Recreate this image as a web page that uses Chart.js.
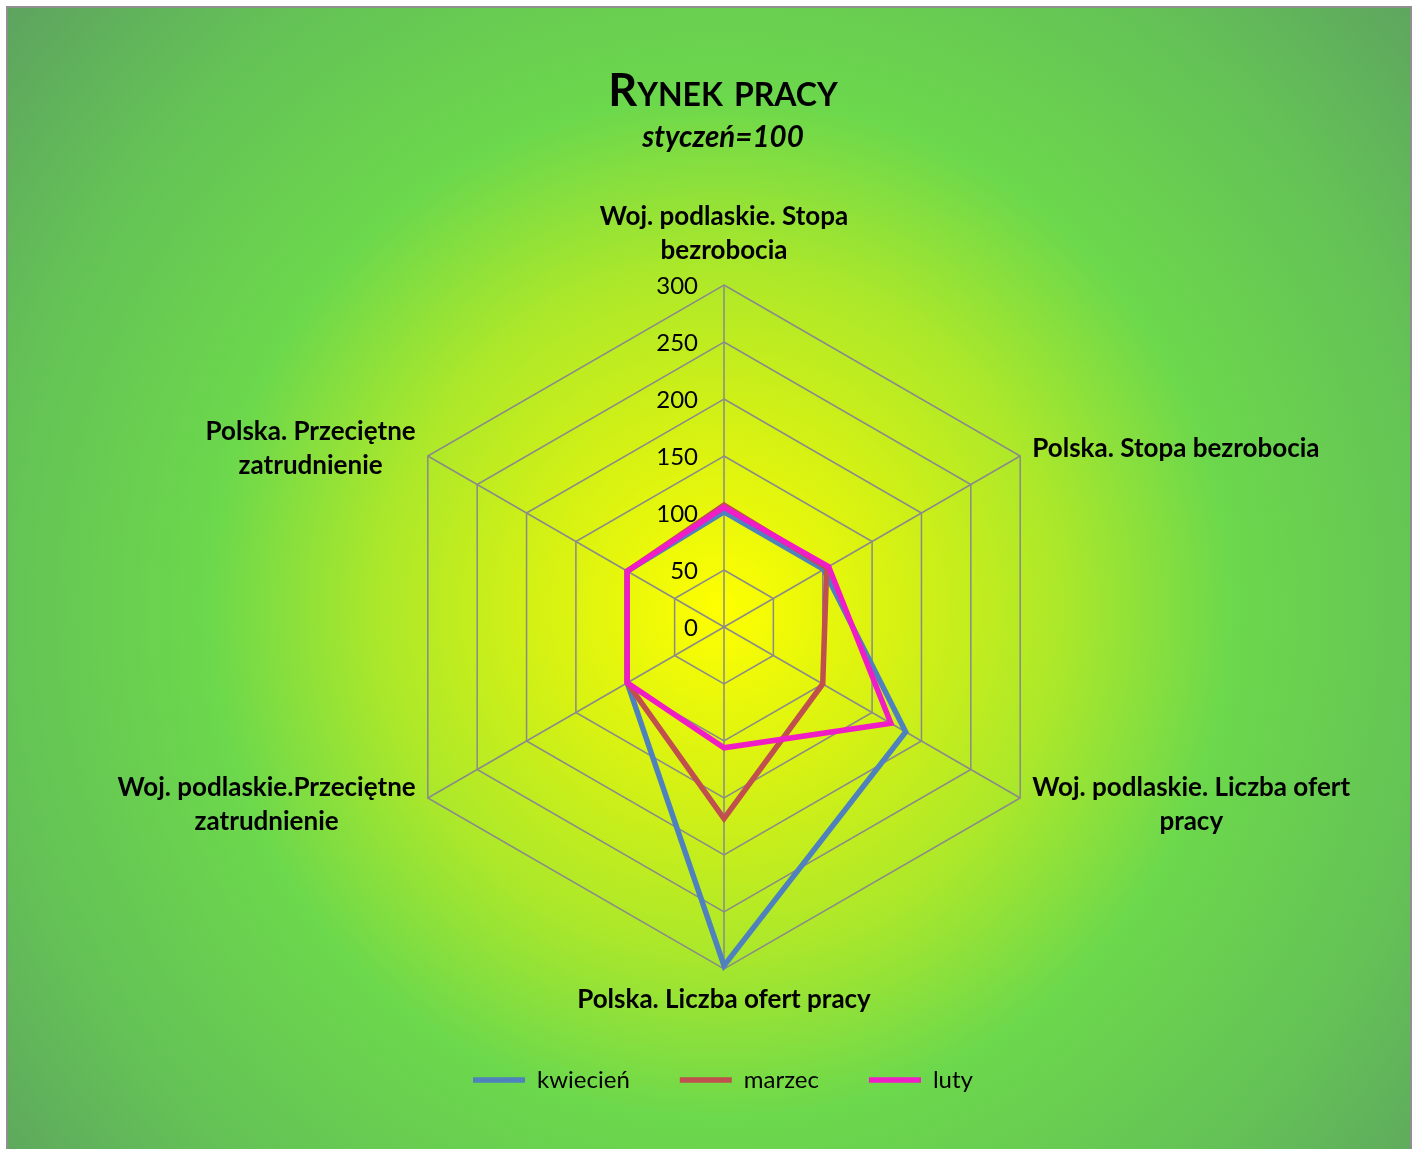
<!DOCTYPE html>
<html lang="pl">
<head>
<meta charset="utf-8">
<title>Rynek pracy</title>
<script src="https://cdn.jsdelivr.net/npm/chart.js@4"></script>
<style>
	html, body { margin: 0; padding: 0; overflow: hidden; }
	body { width: 1420px; height: 1149px; position: relative; background: #fff; }
	#tlo {
		position: absolute; left: 6px; top: 6px; width: 1406px; height: 1160px;
		box-sizing: border-box; border: 2px solid #8f8f8f;
		background: radial-gradient(circle at 712px 600px, #ffff00 0px, #d8f212 170px, #ace82a 340px, #6cd84c 510px, #64c256 730px, #5c9c62 980px);
	}
	#wykres-box { position: absolute; left: 0; top: 0; width: 1420px; height: 1149px; }
</style>
</head>
<body>
<div id="tlo"></div>
<div id="wykres-box"><canvas id="wykres"></canvas></div>
<script>
const FONT = 'Lato, "Open Sans", sans-serif';

// kategorie (osie)
const kategorie = [
	['Woj. podlaskie. Stopa', 'bezrobocia'],
	['Polska. Stopa bezrobocia'],
	['Woj. podlaskie. Liczba ofert', 'pracy'],
	['Polska. Liczba ofert pracy'],
	['Woj. podlaskie.Przeciętne', 'zatrudnienie'],
	['Polska. Przeciętne', 'zatrudnienie']
];

// wartości, styczeń = 100
const kwiecien = [101, 101, 184, 297, 98, 98];
const marzec = [107, 104, 100, 168, 98, 98];
const luty = [105, 106, 169, 106, 98, 98];

// skala
const skalaMin = 0;
const skalaMax = 300;
const skalaKrok = 50;

// Etykiety osi rysowane poza wielokątem, linie wyśrodkowane jak w Excelu
const etykietyOsi = {
	id: 'etykietyOsi',
	afterDraw(chart) {
		let scale = chart.scales.r;
		let ctx = chart.ctx;
		let lh = 34;
		ctx.save();
		ctx.font = 'bold 26px ' + FONT;
		ctx.fillStyle = '#000';
		ctx.textBaseline = 'middle';
		ctx.textAlign = 'center';
		chart.data.labels.forEach((linie, i) => {
			let kat = scale.getIndexAngle(i);
			let p = scale.getPointPosition(i, scale.drawingArea + 14);
			let sin = Math.sin(kat), cos = Math.cos(kat);
			let szer = Math.max(...linie.map(l => ctx.measureText(l).width));
			let cx = p.x;
			if (sin > 0.1) cx = p.x + szer / 2;
			else if (sin < -0.1) cx = p.x - szer / 2;
			let y0;
			if (Math.abs(sin) <= 0.1) {
				y0 = cos > 0 ? p.y - 20 - (linie.length - 1) * lh : p.y + 17;
			} else {
				y0 = p.y - (linie.length - 1) * lh / 2;
			}
			linie.forEach((l, k) => ctx.fillText(l, cx, y0 + k * lh));
		});
		ctx.restore();
	}
};

// Wartości skali po lewej stronie osi pionowej (łącznie z 0)
const etykietySkali = {
	id: 'etykietySkali',
	afterDatasetsDraw(chart) {
		let scale = chart.scales.r;
		let ctx = chart.ctx;
		ctx.save();
		ctx.font = '24px ' + FONT;
		ctx.fillStyle = '#000';
		ctx.textAlign = 'right';
		ctx.textBaseline = 'middle';
		scale.ticks.forEach(t => {
			let y = scale.yCenter - scale.getDistanceFromCenterForValue(t.value);
			ctx.fillText(t.label, scale.xCenter - 26, y + 1);
		});
		ctx.restore();
	}
};

function seria(label, data, kolor, order) {
	return {
		label: label,
		data: data,
		borderColor: kolor,
		backgroundColor: kolor,
		borderWidth: 5.5,
		borderCapStyle: 'round',
		borderJoinStyle: 'miter',
		fill: false,
		pointRadius: 0,
		pointHoverRadius: 0,
		pointStyle: 'line',
		clip: false,
		order: order
	};
}

new Chart(document.getElementById('wykres'), {
	type: 'radar',
	data: {
		labels: kategorie,
		datasets: [
			seria('kwiecień', kwiecien, '#4f81bd', 2),
			seria('marzec', marzec, '#c0504d', 1),
			seria('luty', luty, '#f01cc6', 0)
		]
	},
	options: {
		responsive: true,
		maintainAspectRatio: false,
		animation: false,
		events: [],
		layout: { padding: { top: 0, left: 26, right: 0, bottom: 47 } },
		plugins: {
			title: {
				display: true,
				text: 'Rynek pracy',
				color: '#000',
				font: { family: FONT, size: 45, weight: 'small-caps bold' },
				padding: { top: 64, bottom: 0 }
			},
			subtitle: {
				display: true,
				text: 'styczeń=100',
				color: '#000',
				font: { family: FONT, size: 29.5, style: 'italic', weight: 'bold' },
				padding: { top: 2, bottom: 0 }
			},
			legend: {
				position: 'bottom',
				labels: {
					usePointStyle: true,
					pointStyleWidth: 52,
					color: '#000',
					font: { family: FONT, size: 24 },
					padding: 50,
					sort: (a, b) => a.datasetIndex - b.datasetIndex
				}
			},
			tooltip: { enabled: false }
		},
		scales: {
			r: {
				min: skalaMin,
				max: skalaMax,
				ticks: { stepSize: skalaKrok, display: false },
				pointLabels: { display: false },
				grid: { circular: false, color: '#8a8a8a', lineWidth: 1.5 },
				angleLines: { color: '#8a8a8a', lineWidth: 1.5 },
				afterFit(scale) {
					// środek i promień jak w oryginale
					scale.xCenter = 724;
					scale.yCenter = 627;
					scale.drawingArea = 342;
				}
			}
		}
	},
	plugins: [etykietyOsi, etykietySkali]
});
</script>
</body>
</html>
